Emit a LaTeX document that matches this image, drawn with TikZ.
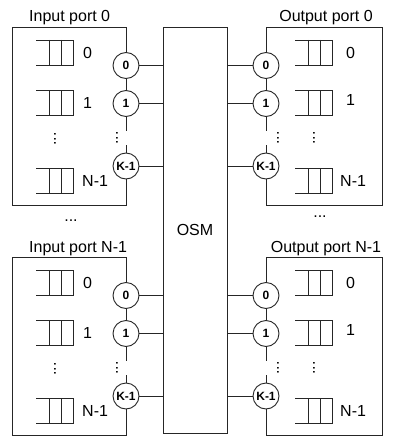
\documentclass[tikz,border=0pt]{standalone}
\usepackage{fontspec}
\setmainfont{Liberation Sans}
\begin{document}
\begin{tikzpicture}[x=1pt,y=-1pt,
  ln/.style={line width=0.9pt, draw=black!85},
  port/.style={circle, ln, fill=white, minimum size=26pt, inner sep=0pt,
    font=\fontsize{12}{13}\selectfont\bfseries},
  lbl/.style={inner sep=0pt, font=\fontsize{16}{19}\selectfont},
  vdots/.style={inner sep=0pt, rotate=90, font=\fontsize{16}{19}\selectfont},
  queue/.pic={\draw[ln] (0,0) -- (37,0) -- (37,25) -- (0,25);
              \draw[ln] (13,0) -- (13,25) (25,0) -- (25,25);}
]
\useasboundingbox (0,0) rectangle (392,436);

% central switch
\node[ln, draw, minimum width=64pt, minimum height=406pt, inner sep=0pt,
      font=\fontsize{16}{19}\selectfont] (osm) at (195,230) {OSM};

\node[lbl] (dotsL) at (71,221) {...};
\node[lbl] (dotsR) at (320,217) {...};

\foreach \h/\t/\n in {A/27/0, B/257/N-1} {
  % ---------- input port ----------
  \node[lbl, anchor=base west] (\h-ti) at (29,{\t-5}) {Input port \n};
  \node[port] (\h-i0) at (126,{\t+38.5}) {0};
  \node[port] (\h-i1) at (126,{\t+76.5}) {1};
  \node[port] (\h-ik) at (126,{\t+139}) {K-1};
  \coordinate (\h-iTR) at (126,\t);
  \coordinate (\h-iTL) at (12,\t);
  \coordinate (\h-iBL) at (12,{\t+178});
  \coordinate (\h-iBR) at (126,{\t+178});
  \coordinate (\h-igA) at (126,{\t+104});
  \coordinate (\h-igB) at (126,{\t+118});
  \draw[ln] (\h-i0) -- (\h-iTR) -- (\h-iTL) -- (\h-iBL) -- (\h-iBR) -- (\h-ik);
  \draw[ln] (\h-i0) -- (\h-i1);
  \draw[ln] (\h-i1) -- (\h-igA);
  \draw[ln] (\h-igB) -- (\h-ik);
  \node[vdots] (\h-icd) at (117,{\t+111}) {...};
  \pic at (36,{\t+13}) {queue};
  \pic at (36,{\t+63}) {queue};
  \pic at (36,{\t+141}) {queue};
  \node[vdots] (\h-iqd) at (55,{\t+112}) {...};
  \node[lbl, anchor=west] (\h-iq0) at (83,{\t+25.5}) {0};
  \node[lbl, anchor=west] (\h-iq1) at (83,{\t+75.5}) {1};
  \node[lbl, anchor=west] (\h-iqk) at (82,{\t+153.5}) {N-1};
  \draw[ln] (\h-i0) -- (\h-i0 -| osm.west);
  \draw[ln] (\h-i1) -- (\h-i1 -| osm.west);
  \draw[ln] (\h-ik) -- (\h-ik -| osm.west);

  % ---------- output port ----------
  \node[lbl, anchor=base] (\h-to) at (326,{\t-5}) {Output port \n};
  \node[port] (\h-o0) at (266,{\t+38.5}) {0};
  \node[port] (\h-o1) at (266,{\t+76.5}) {1};
  \node[port] (\h-ok) at (266,{\t+139}) {K-1};
  \coordinate (\h-oTL) at (266,\t);
  \coordinate (\h-oTR) at (382,\t);
  \coordinate (\h-oBR) at (382,{\t+178});
  \coordinate (\h-oBL) at (266,{\t+178});
  \coordinate (\h-ogA) at (266,{\t+104});
  \coordinate (\h-ogB) at (266,{\t+118});
  \draw[ln] (\h-o0) -- (\h-oTL) -- (\h-oTR) -- (\h-oBR) -- (\h-oBL) -- (\h-ok);
  \draw[ln] (\h-o0) -- (\h-o1);
  \draw[ln] (\h-o1) -- (\h-ogA);
  \draw[ln] (\h-ogB) -- (\h-ok);
  \node[vdots] (\h-ocd) at (278,{\t+111}) {...};
  \pic at (295,{\t+13}) {queue};
  \pic at (295,{\t+63}) {queue};
  \pic at (295,{\t+141}) {queue};
  \node[vdots] (\h-oqd) at (314,{\t+111}) {...};
  \node[lbl, anchor=west] (\h-oq0) at (346,{\t+25.5}) {0};
  \node[lbl, anchor=west] (\h-oq1) at (346,{\t+72.5}) {1};
  \node[lbl, anchor=west] (\h-oqk) at (340,{\t+153.5}) {N-1};
  \draw[ln] (\h-o0) -- (\h-o0 -| osm.east);
  \draw[ln] (\h-o1) -- (\h-o1 -| osm.east);
  \draw[ln] (\h-ok) -- (\h-ok -| osm.east);
}
\end{tikzpicture}
\end{document}
